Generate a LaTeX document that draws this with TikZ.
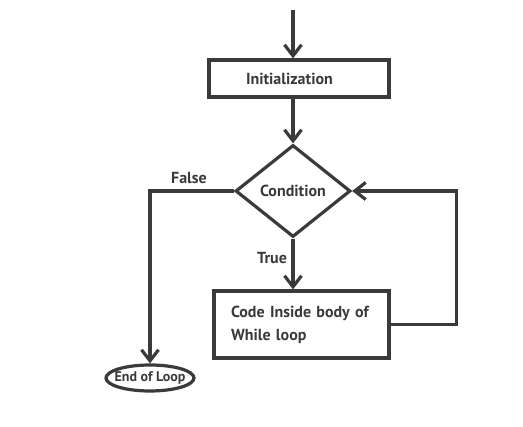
\documentclass[tikz,border=0pt]{standalone}
\usepackage{fontspec}
\setmainfont{PT Sans}
\usetikzlibrary{shapes.geometric,arrows.meta}
\definecolor{ink}{HTML}{3A3A3A}

\begin{document}
\begin{tikzpicture}[x=1pt,y=-1pt,line width=3.2pt,
  font=\fontsize{16}{23}\selectfont\bfseries,
  every node/.style={text=ink},
  box/.style={draw=ink,rectangle,minimum height=37pt,align=left},
  cond/.style={draw=ink,diamond,minimum width=115pt,minimum height=92pt,inner sep=0pt},
  term/.style={draw=ink,ellipse,minimum width=88pt,minimum height=26pt,inner sep=0pt,
    inner xsep=-9pt,font=\fontsize{14}{15}\selectfont\bfseries},
  flow/.style={draw=ink,-{Straight Barb[length=11pt,width=17pt,line width=3.2pt]}},
  link/.style={draw=ink}]
\useasboundingbox (0,0) rectangle (523,427);

% nodes
\node[box,inner xsep=37pt,text width=106pt] (init) at (299,78.5) {Initialization};
\node[cond] (cond) at (293,191) {Condition};
\node[box,inner xsep=17pt,text width=141pt,minimum height=67pt] (body) at (301.5,324.5)
  {Code Inside body of\\While loop};
\node[term] (end) at (150,378) {End of Loop};
\coordinate (start) at (293,10);

% labels
\node (false) at (189,178) {False};
\node (true) at (272,258) {True};

% connectors
\draw[flow] (start) -- (start |- init.north);
\draw[flow] (init.south -| start) -- (cond.north);
\draw[flow] (cond.west) -| (end.north);
\draw[flow] (cond.south) -- (cond.south |- body.north);
\draw[flow] (body.east) -- ++(66,0) |- (cond.east);
\end{tikzpicture}
\end{document}
